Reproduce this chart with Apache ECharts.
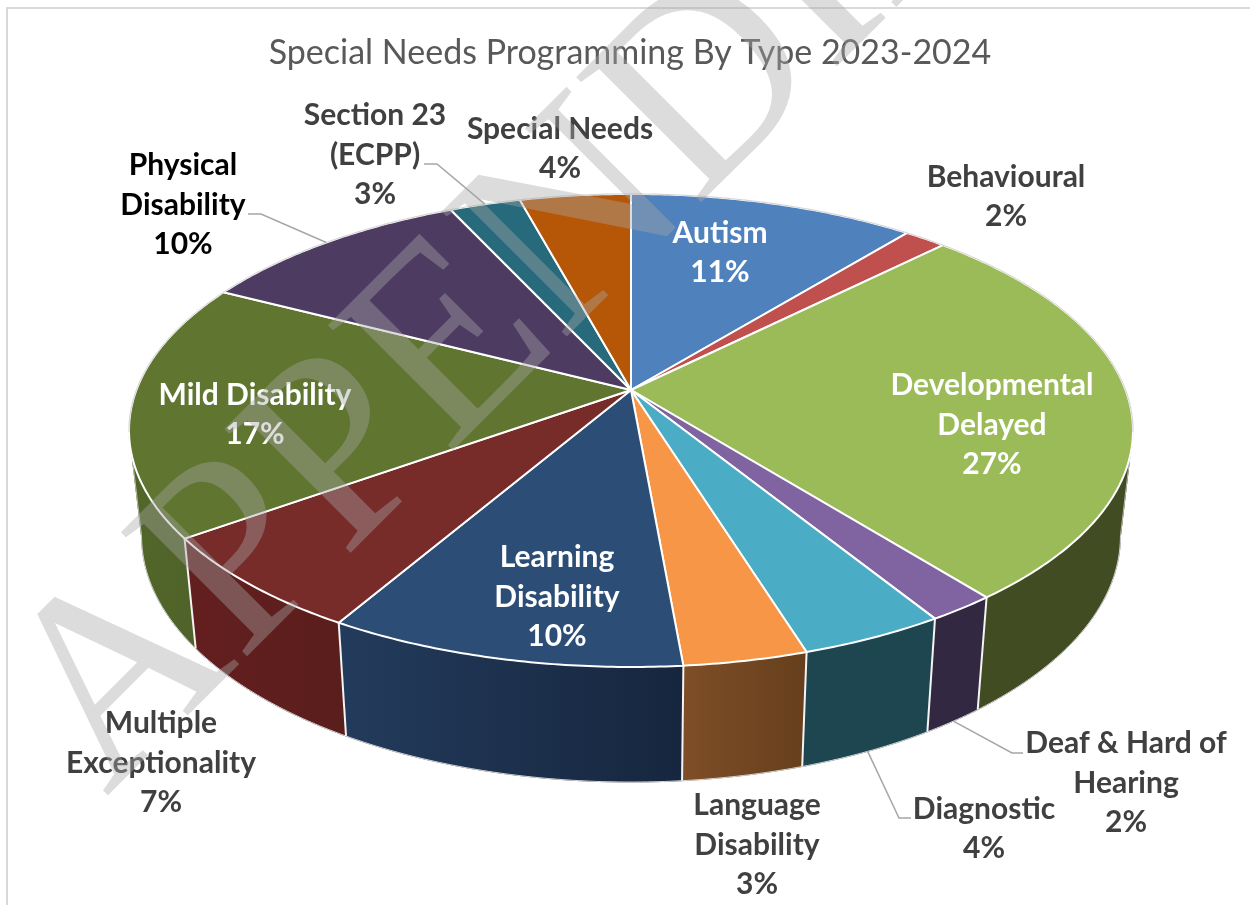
<!DOCTYPE html>
<html>
<head>
<meta charset="utf-8">
<title>Special Needs Programming By Type 2023-2024</title>
<script src="https://cdn.jsdelivr.net/npm/echarts@6/dist/echarts.min.js"></script>
<style>html,body{margin:0;padding:0;background:#fff}#chart{width:1250px;height:905px}</style>
</head>
<body>
<div id="chart"></div>
<script>
// Programme types, clockwise from twelve o'clock
const categories = ['Autism', 'Behavioural', 'Developmental\nDelayed', 'Deaf & Hard of\nHearing', 'Diagnostic',
  'Language\nDisability', 'Learning\nDisability', 'Multiple\nExceptionality', 'Mild Disability',
  'Physical\nDisability', 'Section 23\n(ECPP)', 'Special Needs'];
// Share of programming, percent
const shares = [10.9, 1.6, 26.8, 1.9, 4.0, 3.4, 9.8, 6.7, 17.49, 10.49, 2.7, 4.22];

const chartTitle = 'Special Needs Programming By Type 2023-2024';
const watermark = 'APPENDIX';

const topColors = ['#4F81BD', '#C0504D', '#9BBB59', '#8064A2', '#4BACC6', '#F79646',
  '#2C4D75', '#772C2A', '#5F7530', '#4D3B62', '#276A7C', '#B65708'];
const sideStart = ['#3B6088', '#8A3A38', '#414C23', '#332842', '#1E4651', '#7E4E27',
  '#233B5C', '#641F1F', '#52662A', '#3A2C49', '#1C4F5C', '#824006'];
const sideEnd = ['#3B6088', '#8A3A38', '#414C23', '#332842', '#1E4651', '#663F1C',
  '#16263E', '#5A1E1C', '#4E6127', '#3A2C49', '#1C4F5C', '#824006'];
const labelColors = ['#fff', '#404040', '#fff', '#404040', '#404040', '#404040',
  '#fff', '#404040', '#fff', '#000', '#404040', '#404040'];

// Label centres in pixels, and the elbow/end of the leader line where a label has one
const labelCentres = [[720, 253], [1006, 197], [992, 425], [1126, 783], [984, 829], [757, 845],
  [557, 597], [161, 763], [255, 415], [183, 205], [375, 155], [560, 149]];
const leaders = {
  3: { rim: 'bottom', elbow: [1012, 753], end: [1023, 753] },
  4: { rim: 'bottom', elbow: [899, 818], end: [911, 818] },
  9: { rim: 'top', elbow: [261, 214], end: [248, 214] },
  10: { rim: 'top', elbow: [437, 164], end: [424, 164] }
};

// Perspective of the disc: centre of the top face, half axes, foreshortening of far side
const disc = { cx: 631, cy: 390, a: 494.6, b: 229.6, p: 0.171 };
// The lower face sits further from the eye
const base = { cy: 494, sx: 0.975, sy: 1.04 };
// Angles where the wall turns away from the viewer, right and left of the disc
const turnRight = Math.acos(-disc.p);
const turnLeft = Math.PI * 2 - turnRight;

const total = shares.reduce((s, v) => s + v, 0);
const startAngle = [];
shares.reduce((acc, v, i) => { startAngle[i] = acc / total * Math.PI * 2; return acc + v; }, 0);
const endAngle = shares.map((v, i) => startAngle[i] + v / total * Math.PI * 2);

function topPoint(t) {
  const w = 1 + disc.p * Math.cos(t);
  return [disc.cx + disc.a * Math.sin(t) / w, disc.cy - disc.b * Math.cos(t) / w];
}
function basePoint(t) {
  const w = 1 + disc.p * Math.cos(t);
  return [disc.cx + base.sx * disc.a * Math.sin(t) / w, base.cy - base.sy * disc.b * Math.cos(t) / w];
}
function arc(fn, a0, a1) {
  const n = Math.max(2, Math.ceil((a1 - a0) / 0.01));
  const pts = [];
  for (let k = 0; k <= n; k++) pts.push(fn(a0 + (a1 - a0) * k / n));
  return pts;
}
function wall(a0, a1, shade) {
  return {
    type: 'polygon',
    shape: { points: arc(topPoint, a0, a1).concat(arc(basePoint, a0, a1).reverse()) },
    style: { fill: shade, stroke: shade, lineWidth: 0.8 }
  };
}

function renderSide(params) {
  const i = params.dataIndex;
  const a0 = startAngle[i], a1 = endAngle[i];
  const xs = arc(topPoint, a0, a1).concat(arc(basePoint, a0, a1)).map(p => p[0]);
  const shade = {
    type: 'linear', global: true,
    x: Math.min.apply(null, xs), y: 0, x2: Math.max.apply(null, xs), y2: 0,
    colorStops: [{ offset: 0, color: sideStart[i] }, { offset: 1, color: sideEnd[i] }]
  };
  // A slice crossing a turning angle is split there, so its outline runs straight between both rims
  const cuts = [a0];
  [turnRight, turnLeft].forEach(t => { if (t > a0 && t < a1) cuts.push(t); });
  cuts.push(a1);
  const children = [];
  for (let k = 0; k + 1 < cuts.length; k++) children.push(wall(cuts[k], cuts[k + 1], shade));
  const seen0 = Math.max(a0, turnRight), seen1 = Math.min(a1, turnLeft);
  if (seen1 > seen0) {
    children.push({
      type: 'polyline', shape: { points: arc(basePoint, seen0, seen1) },
      style: { fill: 'none', stroke: '#d4d4d4', lineWidth: 1 }
    });
  }
  [turnRight, turnLeft].forEach(t => {
    if (t > a0 && t < a1) {
      const u = topPoint(t), d = basePoint(t);
      children.push({ type: 'line', shape: { x1: u[0], y1: u[1], x2: d[0], y2: d[1] },
        style: { stroke: '#d4d4d4', lineWidth: 0.8 } });
    }
  });
  const u0 = topPoint(a0), d0 = basePoint(a0);
  children.push({ type: 'line', shape: { x1: u0[0], y1: u0[1], x2: d0[0], y2: d0[1] },
    style: { stroke: '#f4f4f4', lineWidth: 2 } });
  return { type: 'group', children };
}

function renderTop(params) {
  const i = params.dataIndex;
  const rim = arc(topPoint, startAngle[i], endAngle[i]);
  return {
    type: 'polygon',
    shape: { points: [[disc.cx, disc.cy]].concat(rim) },
    style: { fill: topColors[i], stroke: '#fff', lineWidth: 2, lineJoin: 'round' }
  };
}

function renderRimHairline() {
  // Thin grey edge along the far rim, where the white slice outline meets the page
  const pts = arc(topPoint, -1.75, 1.75);
  return { type: 'polyline', shape: { points: pts }, style: { fill: 'none', stroke: '#c4c4c4', lineWidth: 0.8 } };
}

function renderLabel(params) {
  const i = params.dataIndex;
  const c = labelCentres[i];
  const children = [];
  const lead = leaders[i];
  if (lead) {
    const mid = (startAngle[i] + endAngle[i]) / 2;
    const from = lead.rim === 'top' ? topPoint(mid) : basePoint(mid);
    children.push({
      type: 'polyline',
      shape: { points: [from, lead.elbow, lead.end] },
      style: { fill: 'none', stroke: '#a6a6a6', lineWidth: 1.5 }
    });
  }
  children.push({
    type: 'text',
    style: {
      x: c[0], y: c[1],
      text: categories[i] + '\n' + Math.round(shares[i]) + '%',
      fill: labelColors[i],
      align: 'center', verticalAlign: 'middle',
      font: '700 30px Lato',
      lineHeight: 39.5
    }
  });
  return { type: 'group', children };
}

const rows = shares.map((v, i) => [i, v]);
const chart = echarts.init(document.getElementById('chart'), null, { renderer: 'canvas' });
chart.setOption({
  animation: false,
  backgroundColor: '#fff',
  title: {
    text: chartTitle,
    left: 625, top: 31, textAlign: 'center',
    textStyle: { color: '#595959', fontFamily: 'Lato', fontWeight: 400, fontSize: 34 }
  },
  graphic: [
    { type: 'polyline', z: 0, shape: { points: [[1250, 8], [7, 8], [7, 905]] },
      style: { fill: 'none', stroke: '#d9d9d9', lineWidth: 2 } },
    { type: 'text', z: 100, x: 56, y: 747, rotation: Math.PI / 4, scaleX: 0.975,
      style: { text: watermark, font: '270px "Liberation Serif"', fill: 'rgba(167,167,167,0.4)',
        align: 'left', verticalAlign: 'middle' } }
  ],
  series: [
    { type: 'custom', coordinateSystem: 'none', z: 2, silent: true, data: rows, renderItem: renderSide },
    { type: 'custom', coordinateSystem: 'none', z: 3, silent: true, data: rows, renderItem: renderTop },
    { type: 'custom', coordinateSystem: 'none', z: 4, silent: true, data: [[0]], renderItem: renderRimHairline },
    { type: 'custom', coordinateSystem: 'none', z: 5, silent: true, data: rows, renderItem: renderLabel }
  ]
});
</script>
</body>
</html>
